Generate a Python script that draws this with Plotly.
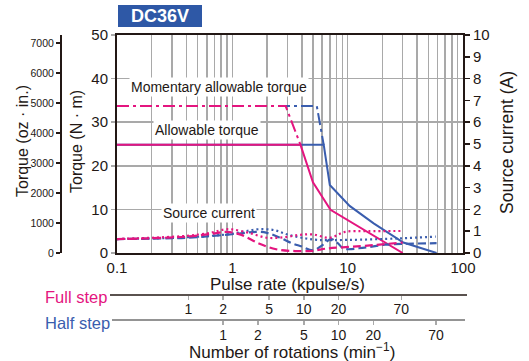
import math
import plotly.graph_objects as go

W, H = 529, 361

# ---------------- data ----------------
# Torque curves: pulse rate (kpulse/s) vs torque (N·m)
FULL_TORQUE_RATE = [0.1, 3.9, 5.0, 7.1, 30]
FULL_TORQUE = [24.8, 24.8, 16.2, 9.9, 0]
FULL_MOMENTARY_RATE = [0.1, 2.9, 3.9]
FULL_MOMENTARY = [33.7, 33.7, 24.8]

HALF_TORQUE_RATE = [0.1, 6.2, 7.0, 10.4, 16.8, 30.4, 59]
HALF_TORQUE = [24.8, 24.8, 15.6, 10.8, 6.8, 2.4, 0]
HALF_MOMENTARY_RATE = [0.1, 5.4, 6.2]
HALF_MOMENTARY = [33.7, 33.7, 24.8]

# Source current curves: pulse rate (kpulse/s) vs current (A)
FULL_CUR_DOT_RATE = [0.1, 0.2, 0.4, 0.65, 0.85, 1.0, 1.4, 2.0, 2.8, 3.8, 5.0, 7.0, 9.5, 15, 30]
FULL_CUR_DOT = [0.64, 0.70, 0.79, 0.93, 1.08, 1.08, 0.92, 0.70, 0.72, 0.83, 0.85, 0.70, 0.97, 1.0, 1.01]
FULL_CUR_DASH_RATE = [0.1, 0.4, 0.7, 0.9, 1.2, 1.7, 2.4, 3.5, 5.0, 6.5, 9.0, 14, 30]
FULL_CUR_DASH = [0.64, 0.75, 0.90, 0.97, 0.83, 0.44, 0.17, 0.09, 0.10, 0.20, 0.26, 0.33, 0.48]

HALF_CUR_DOT_RATE = [0.1, 0.4, 1.0, 1.3, 1.7, 2.3, 3.0, 4.0, 5.5, 10, 28, 58]
HALF_CUR_DOT = [0.64, 0.72, 0.88, 1.0, 1.09, 1.05, 0.85, 0.70, 0.60, 0.60, 0.67, 0.75]
HALF_CUR_DASH_RATE = [0.1, 0.4, 1.0, 1.65, 2.0, 2.6, 3.3, 4.0, 5.0, 6.0, 7.2, 8.2, 9.3, 14, 21, 30, 59]
HALF_CUR_DASH = [0.64, 0.70, 0.86, 0.97, 0.92, 0.70, 0.44, 0.30, 0.12, 0.35, 0.64, 0.45, 0.20, 0.25, 0.38, 0.42, 0.45]

# Axis ticks
X_TICKS = [0.1, 1, 10, 100]
X_TICK_LABELS = ["0.1", "1", "10", "100"]
X_GRID = [m * d for d in (0.1, 1, 10) for m in range(2, 10)]
OZ_TICKS = [0, 1000, 2000, 3000, 4000, 5000, 6000, 7000]
RPM_TICKS = [1, 2, 5, 10, 20, 70]
RPM_PER_KPPS_FULL = 2.4   # full step: rotations/min per kpulse/s
RPM_PER_KPPS_HALF = 1.2   # half step

PINK = "#E4157F"
BLUE = "#3A5DAE"
GRID = "#A9A9A9"
DARK = "#231815"
FONT = "Liberation Sans, Arial, sans-serif"


def px(x):
    return x / W


def py(y):
    return 1 - y / H


X_RANGE = [-1, 2]
Y_TOP, Y_BOT = 35, 253
X_LEFT, X_RIGHT = 117, 463

fig = go.Figure()

DASHDOT = "12px,4px,3px,4px"
DOT = "2px,3px"
DASH = "8px,4px"


def add(x, y, color, dash, yaxis="y", width=2, shape="linear"):
    fig.add_trace(go.Scatter(
        x=x, y=y, mode="lines", xaxis="x", yaxis=yaxis,
        line=dict(color=color, width=width, dash=dash, shape=shape),
        showlegend=False, hoverinfo="skip"))


# blue (half step) first, pink on top
add(HALF_MOMENTARY_RATE, HALF_MOMENTARY, BLUE, DASHDOT)
add(HALF_TORQUE_RATE, HALF_TORQUE, BLUE, "solid")
add(HALF_CUR_DOT_RATE, HALF_CUR_DOT, BLUE, DOT, "y2", 2.2, "spline")
add(HALF_CUR_DASH_RATE, HALF_CUR_DASH, BLUE, DASH, "y2", 2.2, "spline")
add(FULL_MOMENTARY_RATE, FULL_MOMENTARY, PINK, DASHDOT)
add(FULL_TORQUE_RATE, FULL_TORQUE, PINK, "solid")
add(FULL_CUR_DOT_RATE, FULL_CUR_DOT, PINK, DOT, "y2", 2.2, "spline")
add(FULL_CUR_DASH_RATE, FULL_CUR_DASH, PINK, DASH, "y2", 2.2, "spline")

# dummy invisible points so that the extra axes are drawn
for xa, ya in (("x2", "y"), ("x3", "y"), ("x", "y3")):
    fig.add_trace(go.Scatter(x=[1], y=[0], xaxis=xa, yaxis=ya, mode="markers",
                             marker=dict(opacity=0), showlegend=False, hoverinfo="skip"))

tickvals_x = sorted(X_TICKS + X_GRID)
ticktext_x = [X_TICK_LABELS[X_TICKS.index(v)] if v in X_TICKS else "" for v in tickvals_x]

xdom = [px(X_LEFT), px(X_RIGHT)]
ydom = [py(Y_BOT), py(Y_TOP)]

fig.update_layout(
    width=W, height=H,
    margin=dict(l=0, r=0, t=0, b=0, pad=0, autoexpand=False),
    paper_bgcolor="white", plot_bgcolor="white",
    showlegend=False,
    xaxis=dict(
        type="log", range=X_RANGE, domain=xdom, anchor="y", automargin=False,
        tickvals=tickvals_x, ticktext=ticktext_x,
        showgrid=True, gridcolor=GRID, gridwidth=1.5,
        showline=True, linecolor=DARK, linewidth=2, mirror=True,
        ticks="", tickfont=dict(family=FONT, size=15, color=DARK),
        zeroline=False,
    ),
    yaxis=dict(
        range=[0, 50], domain=ydom, anchor="x", dtick=10, automargin=False,
        showgrid=True, gridcolor=GRID, gridwidth=1.5,
        showline=True, linecolor=DARK, linewidth=2, mirror=True,
        ticks="outside", ticklen=4, tickcolor=GRID, tickwidth=1.5,
        tickfont=dict(family=FONT, size=15, color=DARK), zeroline=False,
    ),
    yaxis2=dict(
        range=[0, 10], overlaying="y", anchor="x", side="right", dtick=1, automargin=False,
        showgrid=False, showline=False, zeroline=False,
        ticks="outside", ticklen=6, tickcolor=DARK, tickwidth=1.5,
        tickfont=dict(family=FONT, size=15, color=DARK),
    ),
    yaxis3=dict(
        range=[0, 218 / 30 * 1000], overlaying="y", anchor="free", position=px(60),
        side="left", tickvals=OZ_TICKS, showgrid=False, zeroline=False, automargin=False,
        showline=True, linecolor=DARK, linewidth=1.5,
        ticks="outside", ticklen=4, tickcolor=DARK, tickwidth=1.2,
        tickfont=dict(family=FONT, size=10.5, color=DARK),
    ),
    xaxis2=dict(
        type="log", overlaying="x", anchor="free", position=py(295), side="bottom",
        range=[math.log10(0.1 * RPM_PER_KPPS_FULL), math.log10(100 * RPM_PER_KPPS_FULL)],
        tickvals=RPM_TICKS, ticktext=[str(v) for v in RPM_TICKS], automargin=False,
        showgrid=False, showline=False, zeroline=False, ticklabelstandoff=-3,
        ticks="outside", ticklen=4, tickcolor=GRID, tickwidth=1.5,
        tickfont=dict(family=FONT, size=14, color=DARK),
    ),
    xaxis3=dict(
        type="log", overlaying="x", anchor="free", position=py(320), side="bottom",
        range=[math.log10(0.1 * RPM_PER_KPPS_HALF), math.log10(100 * RPM_PER_KPPS_HALF)],
        tickvals=RPM_TICKS, ticktext=[str(v) for v in RPM_TICKS], automargin=False,
        showgrid=False, showline=False, zeroline=False, ticklabelstandoff=-2,
        ticks="outside", ticklen=4, tickcolor=GRID, tickwidth=1.5,
        tickfont=dict(family=FONT, size=14, color=DARK),
    ),
)

shapes = [
    dict(type="rect", xref="paper", yref="paper", x0=px(118), x1=px(202), y0=py(27), y1=py(5),
         fillcolor="#2E58A6", line=dict(width=0)),
    dict(type="line", xref="paper", yref="paper", x0=px(110), x1=px(467), y0=py(295), y1=py(295),
         line=dict(color=DARK, width=1.3)),
    dict(type="line", xref="paper", yref="paper", x0=px(112), x1=px(465), y0=py(320), y1=py(320),
         line=dict(color="#707070", width=1.3)),
]
fig.update_layout(shapes=shapes)


def ann(text, x, y, size=16, color=DARK, angle=0, bg=None, xanchor="center", bold=False):
    if bold:
        text = "<b>" + text + "</b>"
    fig.add_annotation(
        text=text, x=px(x), y=py(y), xref="paper", yref="paper", showarrow=False,
        xanchor=xanchor, yanchor="middle", textangle=angle,
        font=dict(family=FONT, size=size, color=color),
        bgcolor=bg, borderpad=1)


ann("DC36V", 160, 16, size=18, color="white", bold=True)
ann("Torque (oz · in.)", 22, 141, size=16, angle=-90)
ann("Torque (N · m)", 76, 142, size=16, angle=-90)
ann("Source current (A)", 507, 143, size=17.5, angle=-90)
ann("Momentary allowable torque", 219, 87, size=14, bg="white")
ann("Allowable torque", 207, 130, size=14, bg="white")
ann("Source current", 209, 213, size=14, bg="white")
ann("Pulse rate (kpulse/s)", 287, 284, size=17)
ann("Number of rotations (min<sup>−1</sup>)", 292, 351, size=17)
ann("Full step", 43, 297, size=16.5, color=PINK, xanchor="left")
ann("Half step", 43, 323, size=16.5, color=BLUE, xanchor="left")

fig.write_html(
    "out.html",
    config={"displayModeBar": False, "staticPlot": True},
    post_script="document.body.style.margin='0';document.body.style.overflow='hidden';",
)
